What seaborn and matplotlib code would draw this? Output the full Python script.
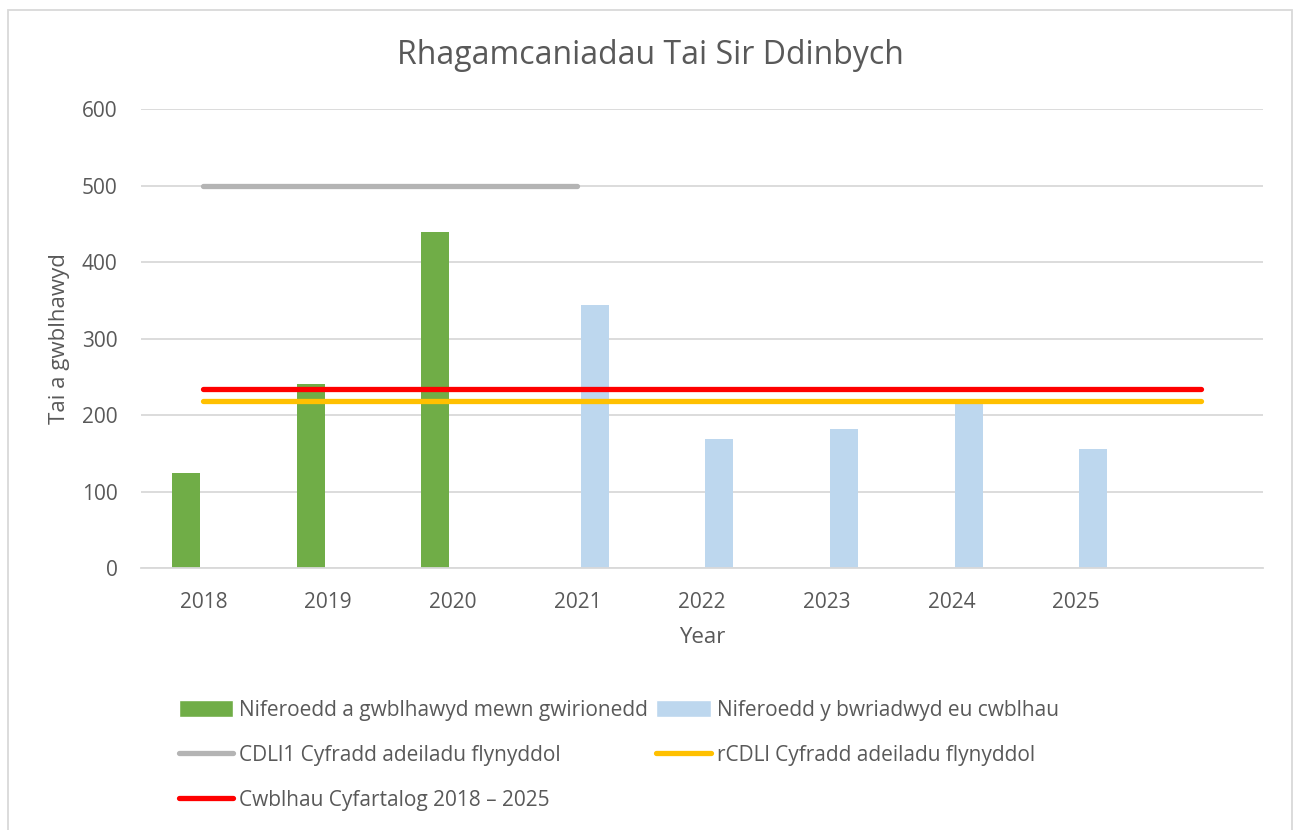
import numpy as np
import pandas as pd
import matplotlib
matplotlib.use("Agg")
import matplotlib.pyplot as plt
import seaborn as sns
from matplotlib.patches import Patch, Rectangle
from matplotlib.lines import Line2D

# data
years = ["2018", "2019", "2020", "2021", "2022", "2023", "2024", "2025", ""]
actual_years = ["2018", "2019", "2020"]
actual = [124, 241, 439]
planned_years = ["2021", "2022", "2023", "2024", "2025"]
planned = [344, 169, 182, 215, 156]
cdl1_rate = [500, 500, 500, 500]
rcdl_rate = [218, 218, 218, 218, 218, 218, 218, 218, 218]
avg_rate = [234, 234, 234, 234, 234, 234, 234, 234, 234]

labels = [
    "Niferoedd a gwblhawyd mewn gwirionedd",
    "Niferoedd y bwriadwyd eu cwblhau",
    "CDLl1 Cyfradd adeiladu flynyddol",
    "rCDLl Cyfradd adeiladu flynyddol",
    "Cwblhau Cyfartalog 2018 \u2013 2025",
]
colors = ["#70AD47", "#BDD7EE", "#B4B4B4", "#FFC000", "#FF0000"]

df = pd.DataFrame({
    "year": actual_years + planned_years,
    "value": actual + planned,
    "series": [labels[0]] * len(actual) + [labels[1]] * len(planned),
})

sns.set_theme(style="white")
plt.rcParams["font.family"] = ["Open Sans", "DejaVu Sans"]
txt = "#595959"
fs = 15

fig = plt.figure(figsize=(12.99, 8.30), dpi=100)
ax = fig.add_axes([141 / 1299, 1 - 568 / 830, 1122 / 1299, 459 / 830])

sns.barplot(data=df, x="year", y="value", hue="series", order=years,
            hue_order=labels[:2], palette=colors[:2], width=0.56, gap=0.2,
            dodge=True, saturation=1, legend=False, ax=ax, linewidth=0)

lw = 3.8
sns.lineplot(x=np.arange(len(cdl1_rate)), y=cdl1_rate, ax=ax, color=colors[2],
             lw=lw, solid_capstyle="round")
sns.lineplot(x=np.arange(len(rcdl_rate)), y=rcdl_rate, ax=ax, color=colors[3],
             lw=lw, solid_capstyle="round")
sns.lineplot(x=np.arange(len(avg_rate)), y=avg_rate, ax=ax, color=colors[4],
             lw=lw, solid_capstyle="round")

ax.set_xlim(-0.5, len(years) - 0.5)
ax.set_ylim(0, 600)
ax.set_yticks(range(0, 601, 100))
ax.grid(axis="y", color="#D9D9D9", lw=1.3)
ax.set_axisbelow(True)
for s in ["top", "right", "left"]:
    ax.spines[s].set_visible(False)
ax.spines["bottom"].set_color("#D9D9D9")
ax.spines["bottom"].set_linewidth(1.3)
ax.tick_params(axis="both", length=0, labelsize=fs, labelcolor=txt)
ax.tick_params(axis="x", pad=17)
ax.tick_params(axis="y", pad=17)

ax.set_xlabel("Year", fontsize=fs + 1, color=txt, va="center")
ax.xaxis.set_label_coords(0.5, (568 - 637) / 459)
ax.set_ylabel("Tai a gwblhawyd", fontsize=fs + 1, color=txt, va="center")
ax.yaxis.set_label_coords((59 - 141) / 1122, 0.5)

fig.text(650 / 1299, 1 - 55 / 830, "Rhagamcaniadau Tai Sir Ddinbych",
         ha="center", va="center", fontsize=23, color=txt)

handles = [
    Patch(facecolor=colors[0]),
    Line2D([], [], color=colors[2], lw=lw, solid_capstyle="round"),
    Line2D([], [], color=colors[4], lw=lw, solid_capstyle="round"),
    Patch(facecolor=colors[1]),
    Line2D([], [], color=colors[3], lw=lw, solid_capstyle="round"),
]
hlabels = [labels[0], labels[2], labels[4], labels[1], labels[3]]
fig.legend(handles, hlabels, loc="upper left",
           bbox_to_anchor=(160 / 1299, 1 - 681 / 830), ncol=2, frameon=False,
           fontsize=fs, labelcolor=txt, handlelength=2.6, handleheight=0.9,
           handletextpad=0.3, columnspacing=0.4, labelspacing=1.15)

fig.patches.append(Rectangle((8 / 1299, -0.05), 1284 / 1299, 1.05 - 10 / 830,
                             transform=fig.transFigure, fill=False,
                             edgecolor="#D9D9D9", lw=1.3))

fig.savefig("out.png", dpi=100)
